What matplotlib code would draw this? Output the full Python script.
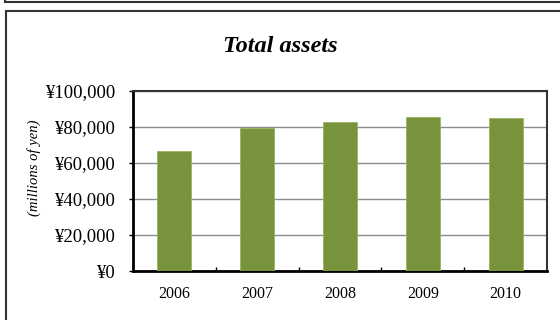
import matplotlib
matplotlib.use("Agg")
import matplotlib.pyplot as plt
from matplotlib.lines import Line2D
from matplotlib.ticker import FuncFormatter, MultipleLocator

years = ["2006", "2007", "2008", "2009", "2010"]
total_assets = [66700, 79600, 82800, 85700, 85000]

bar_color = "#77933C"
serif = ["Liberation Serif", "DejaVu Serif"]

W, H = 560, 320
fig = plt.figure(figsize=(W / 100, H / 100), dpi=100)
fig.patch.set_facecolor("white")

# plot area in pixel coordinates
left, right, top, bottom = 133, 547, 91, 271
ax = fig.add_axes([left / W, 1 - bottom / H, (right - left) / W, (bottom - top) / H])

x = range(len(years))
ax.bar(x, total_assets, width=0.41, color=bar_color, edgecolor="#9BB25F",
       linewidth=0.6, zorder=3)

ax.set_xlim(-0.5, len(years) - 0.5)
ax.set_ylim(0, 100000)
ax.yaxis.set_major_locator(MultipleLocator(20000))
ax.yaxis.set_major_formatter(FuncFormatter(lambda v, p: "¥{:,.0f}".format(v)))
ax.grid(axis="y", color="#8c8c8c", linewidth=1.0, zorder=1)

ax.set_xticks(list(x))
ax.set_xticklabels(years, fontfamily=serif, fontsize=11.5)
ax.set_xticks([i + 0.5 for i in range(len(years) - 1)], minor=True)
ax.tick_params(axis="x", which="major", length=0, pad=11)
ax.tick_params(axis="x", which="minor", direction="in", length=3, width=1, color="black")
ax.tick_params(axis="y", direction="out", length=3, width=1, pad=10, colors="black")
for lbl in ax.get_yticklabels():
    lbl.set_fontfamily(serif)
    lbl.set_fontsize(13.5)

for side in ("left", "bottom"):
    ax.spines[side].set_linewidth(2)
    ax.spines[side].set_color("black")
for side in ("top", "right"):
    ax.spines[side].set_linewidth(1.5)
    ax.spines[side].set_color("#333333")

fig.text(0.5, 1 - 47 / H, "Total assets", ha="center", va="center",
         fontfamily=serif, fontsize=17.5, fontweight="bold", fontstyle="italic")
fig.text(34 / W, 1 - 168 / H, "(millions of yen)", ha="center", va="center",
         rotation=90, fontfamily=serif, fontsize=10.5, fontstyle="italic")

# surrounding frames
def px_line(xs, ys, lw=1.5, color="#333333"):
    fig.add_artist(Line2D([v / W for v in xs], [1 - v / H for v in ys],
                          transform=fig.transFigure, color=color, linewidth=lw))

px_line([5, W + 2], [1.5, 1.5])
px_line([5, 5], [-2, 1.5])
px_line([5.5, W + 2], [10.5, 10.5])
px_line([5.5, 5.5], [10.5, H + 2])

fig.savefig("out.png", dpi=100, facecolor="white")
